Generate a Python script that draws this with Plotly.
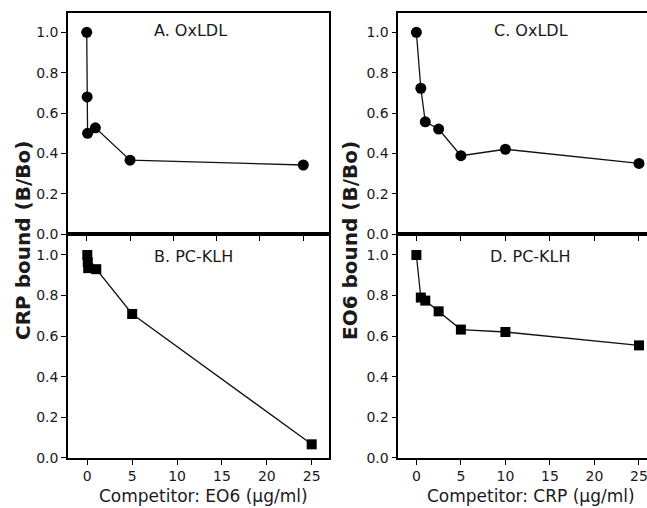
import plotly.graph_objects as go

# ---- data ----
a_x = [0, 0.05, 0.1, 1, 5, 25]
a_y = [1.0, 0.68, 0.50, 0.527, 0.367, 0.343]
b_x = [0, 0.05, 0.1, 1, 5, 25]
b_y = [1.0, 0.965, 0.935, 0.93, 0.709, 0.066]
c_x = [0, 0.5, 1, 2.5, 5, 10, 25]
c_y = [1.0, 0.723, 0.557, 0.521, 0.389, 0.421, 0.351]
d_x = [0, 0.5, 1, 2.5, 5, 10, 25]
d_y = [1.0, 0.79, 0.775, 0.722, 0.632, 0.62, 0.554]
y_ticks = [0, 0.2, 0.4, 0.6, 0.8, 1.0]
x_ticks = [0, 5, 10, 15, 20, 25]
panel_labels = ["A. OxLDL", "B. PC-KLH", "C. OxLDL", "D. PC-KLH"]
x_titles = ["Competitor: EO6 (µg/ml)", "Competitor: CRP (µg/ml)"]
y_titles = ["CRP bound (B/Bo)", "EO6 bound (B/Bo)"]

W, H = 647, 508
def fx(p): return p / W
def fy(p): return 1 - p / H

FONT = "DejaVu Sans"
TXT = "#1a1a1a"

fig = go.Figure()

def add(xs, ys, xa, ya, symbol, size):
    fig.add_trace(go.Scatter(
        x=xs, y=ys, xaxis=xa, yaxis=ya, mode="lines+markers",
        line=dict(color="#111", width=1.3),
        marker=dict(symbol=symbol, size=size, color="black"),
        cliponaxis=False, showlegend=False))

add(a_x, a_y, "x", "y", "circle", 11)
add(b_x, b_y, "x2", "y2", "square", 10)
add(c_x, c_y, "x3", "y3", "circle", 11)
add(d_x, d_y, "x4", "y4", "square", 10)

L_dom = [fx(68), fx(329.3)]
R_dom = [fx(398.3), 1.0]
T_dom = [fy(234.3), fy(13)]
B_dom = [fy(457.7), fy(234.3)]

tickfont = dict(family=FONT, size=14, color=TXT)

def xaxis(dom, rng, anchor, labels, mirror=True):
    return dict(domain=dom, range=rng, anchor=anchor, tickvals=x_ticks,
                showticklabels=labels, ticks="outside", ticklen=5, tickwidth=1.2,
                tickcolor="black", showline=True, linecolor="black", linewidth=1.6,
                mirror=mirror, showgrid=False, zeroline=False, tickfont=tickfont,
                automargin=False, ticklabeloverflow="allow")

def yaxis(dom, rng, anchor, mirror=True):
    return dict(domain=dom, range=rng, anchor=anchor, tickvals=y_ticks,
                tickformat=".1f", ticks="outside", ticklen=5, tickwidth=1.2,
                tickcolor="black", showline=True, linecolor="black", linewidth=1.6,
                mirror=mirror, showgrid=False, zeroline=False, tickfont=tickfont,
                automargin=False)

fig.update_layout(
    width=W, height=H, margin=dict(l=0, r=0, t=0, b=0),
    paper_bgcolor="white", plot_bgcolor="white",
    xaxis=xaxis(L_dom, [-2.16, 28.0], "y", False),
    yaxis=yaxis(T_dom, [0, 1.0955], "x"),
    xaxis2=xaxis(L_dom, [-2.15, 26.96], "y2", True),
    yaxis2=yaxis(B_dom, [0, 1.102], "x2"),
    xaxis3=xaxis(R_dom, [-2.03, 25.9], "y3", False),
    yaxis3=yaxis(T_dom, [0, 1.0955], "x3", mirror=False),
    xaxis4=xaxis(R_dom, [-2.03, 25.9], "y4", True),
    yaxis4=yaxis(B_dom, [0, 1.102], "x4", mirror=False),
)

ann_font = dict(family=FONT, size=16, color=TXT)
for text, (px, py) in zip(panel_labels, [(190, 30), (193, 256), (531, 30), (530, 256)]):
    fig.add_annotation(text=text, x=fx(px), y=fy(py), xref="paper", yref="paper",
                       showarrow=False, font=ann_font, xanchor="center", yanchor="middle")

for text, px in zip(x_titles, [203.5, 531]):
    fig.add_annotation(text=text, x=fx(px), y=fy(496), xref="paper", yref="paper",
                       showarrow=False, font=dict(family=FONT, size=17, color=TXT),
                       xanchor="center", yanchor="middle")

for text, px in zip(y_titles, [23, 350]):
    fig.add_annotation(text=text, x=fx(px), y=fy(241), xref="paper", yref="paper",
                       showarrow=False, textangle=-90,
                       font=dict(family=FONT, size=20, color=TXT, weight="bold"),
                       xanchor="center", yanchor="middle")

fig.write_html("out.html", config={"displayModeBar": False},
               post_script="document.body.style.margin='0px';document.body.style.overflow='hidden';")
